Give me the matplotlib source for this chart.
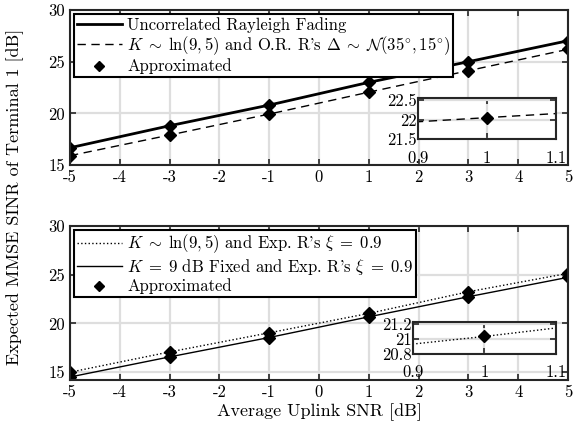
import numpy as np
import matplotlib
matplotlib.use('Agg')
import matplotlib.pyplot as plt

plt.rcParams['font.family'] = 'serif'
plt.rcParams['font.serif'] = ['cmr10']
plt.rcParams['mathtext.fontset'] = 'cm'
plt.rcParams['axes.unicode_minus'] = False
plt.rcParams['axes.formatter.use_mathtext'] = False

snr = [-5, -3, -1, 1, 3, 5]

# upper panel
rayleigh = [16.67, 18.8, 20.8, 23.0, 25.0, 27.03]
or_delta = [15.9, 17.9, 19.93, 22.05, 24.13, 26.2]

# lower panel
exp_ln = [15.0, 17.08, 19.04, 21.03, 23.25, 25.14]
exp_fixed = [14.51, 16.57, 18.56, 20.68, 22.74, 24.73]

x_ticks = [-5, -4, -3, -2, -1, 0, 1, 2, 3, 4, 5]
x_labels = ['-5', '-4', '-3', '-2', '-1', '0', '1', '2', '3', '4', '5']
y_ticks = [15, 20, 25, 30]
y_labels = ['15', '20', '25', '30']

spine_c = '#262626'
grid_c = '#dedede'
fs = 12


def style_axes(ax, lw=1.5):
    ax.grid(True, color=grid_c, linewidth=1.6)
    ax.set_axisbelow(True)
    for s in ax.spines.values():
        s.set_linewidth(lw)
        s.set_color(spine_c)
    ax.tick_params(direction='in', top=True, right=True, length=4,
                   width=1.2, color=spine_c, labelsize=fs)


def add_legend(ax):
    leg = ax.legend(loc='upper left', fontsize=fs, fancybox=False, framealpha=1,
                    edgecolor='k', borderaxespad=0.25, handlelength=2.7,
                    borderpad=0.15, labelspacing=0.1, handletextpad=0.35,
                    markerscale=0.8)
    leg.get_frame().set_linewidth(1.5)
    return leg


fig = plt.figure(figsize=(5.76, 4.28), dpi=100)

# ---- top
ax1 = fig.add_axes([0.1215, 0.6145, 0.8646, 0.362])
ax1.plot(snr, rayleigh, '-', color='k', lw=2.0, label='Uncorrelated Rayleigh Fading')
ax1.plot(snr, or_delta, '--', color='k', lw=1.0, dashes=(6, 4),
         label=r"$K\;\sim\;\ln(9,5)$ and O.R. R's $\Delta\;\sim\;\mathcal{N}(35^{\circ},15^{\circ})$")
ax1.plot(snr, rayleigh, 'D', color='k', ms=6)
ax1.plot(snr, or_delta, 'D', color='k', ms=6, label='Approximated')
ax1.set_xlim(-5, 5)
ax1.set_ylim(15, 30)
ax1.set_xticks(x_ticks)
ax1.set_xticklabels(x_labels)
ax1.set_yticks(y_ticks)
ax1.set_yticklabels(y_labels)
style_axes(ax1)
add_legend(ax1)

ins1 = fig.add_axes([0.7257, 0.675, 0.2396, 0.0958])
ins1.plot(snr, or_delta, '--', color='k', lw=1.0, dashes=(6, 4))
ins1.plot(snr, or_delta, 'D', color='k', ms=6)
ins1.set_xlim(0.9, 1.1)
ins1.set_ylim(21.5, 22.55)
ins1.set_xticks([0.9, 1, 1.1])
ins1.set_xticklabels(['0.9', '1', '1.1'])
ins1.set_yticks([21.5, 22, 22.5])
ins1.set_yticklabels(['21.5', '22', '22.5'])
style_axes(ins1)
ins1.tick_params(labelsize=fs, pad=1)
ins1.tick_params(axis='x', pad=8)

# ---- bottom
ax2 = fig.add_axes([0.1215, 0.1121, 0.8646, 0.36])
ax2.plot(snr, exp_ln, ':', color='k', lw=1.0,
         label=r"$K\;\sim\;\ln(9,5)$ and Exp. R's $\xi\;=\;0.9$")
ax2.plot(snr, exp_fixed, '-', color='k', lw=1.0,
         label=r"$K\;=\;9$ dB Fixed and Exp. R's $\xi\;=\;0.9$")
ax2.plot(snr, exp_ln, 'D', color='k', ms=6)
ax2.plot(snr, exp_fixed, 'D', color='k', ms=6, label='Approximated')
ax2.set_xlim(-5, 5)
ax2.set_ylim(14.2, 30)
ax2.set_xticks(x_ticks)
ax2.set_xticklabels(x_labels)
ax2.set_yticks(y_ticks)
ax2.set_yticklabels(y_labels)
style_axes(ax2)
ax2.set_xlabel('Average Uplink SNR [dB]', fontsize=13, labelpad=2)
add_legend(ax2)

ins2 = fig.add_axes([0.717, 0.1729, 0.248, 0.0748])
ins2.plot(snr, exp_ln, ':', color='k', lw=1.0)
ins2.plot(snr, exp_ln, 'D', color='k', ms=6)
ins2.set_xlim(0.9, 1.1)
ins2.set_ylim(20.8, 21.22)
ins2.set_xticks([0.9, 1, 1.1])
ins2.set_xticklabels(['0.9', '1', '1.1'])
ins2.set_yticks([20.8, 21, 21.2])
ins2.set_yticklabels(['20.8', '21', '21.2'])
style_axes(ins2)
ins2.tick_params(labelsize=fs, pad=1)
ins2.tick_params(axis='x', pad=8)

fig.text(0.027, 0.54, 'Expected MMSE SINR of Terminal 1 [dB]', rotation=90,
         ha='center', va='center', fontsize=13)

fig.savefig('out.png', dpi=100)
